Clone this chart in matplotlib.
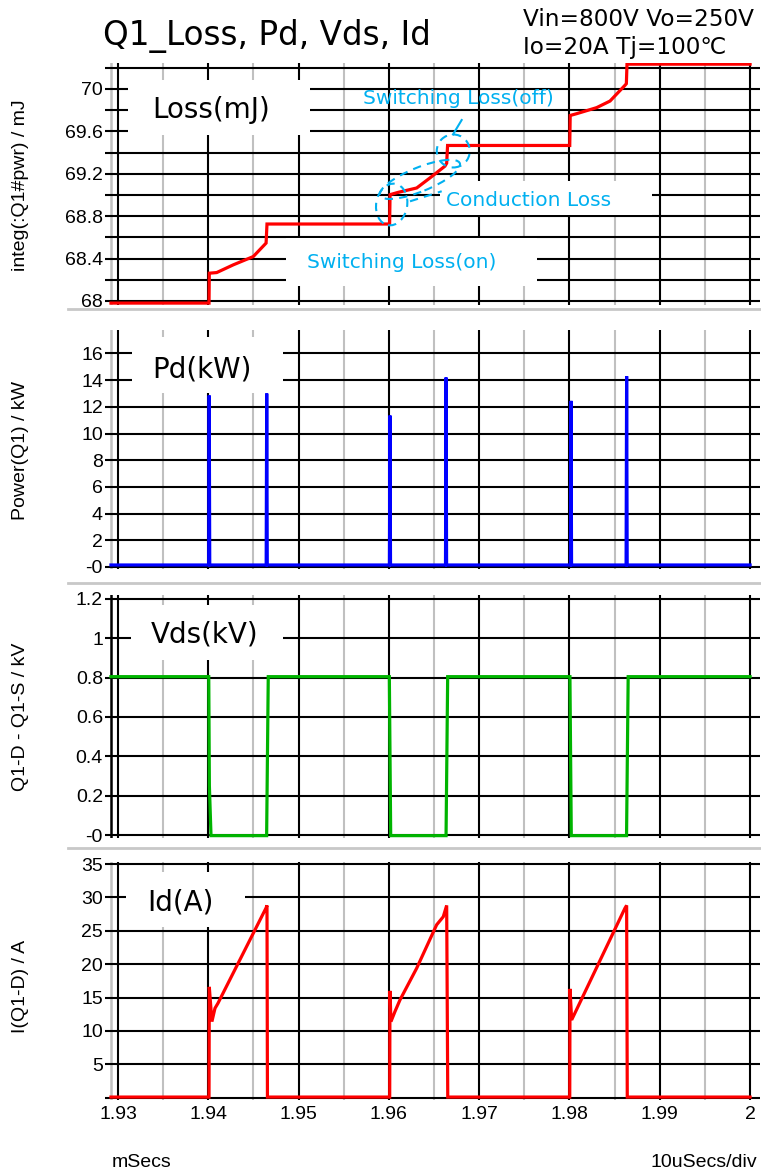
import matplotlib.pyplot as plt
import numpy as np
from matplotlib.patches import Rectangle, Ellipse
from matplotlib.lines import Line2D
from matplotlib.transforms import ScaledTranslation

# --- waveform data (time in ms) ---
loss_t = [1.92922, 1.94008, 1.94011, 1.94093, 1.94277, 1.94498, 1.94640, 1.94650,
          1.96008, 1.96013, 1.96104, 1.96308, 1.96455, 1.96621, 1.96640, 1.96650,
          1.98003, 1.98008, 1.98080, 1.98301, 1.98449, 1.98615, 1.98630, 1.98637, 2.0]
loss_mj = [67.98, 67.98, 68.262, 68.268, 68.341, 68.419, 68.546, 68.726,
           68.726, 69.003, 69.025, 69.066, 69.161, 69.272, 69.30, 69.467,
           69.467, 69.750, 69.767, 69.824, 69.886, 70.035, 70.05, 70.234, 70.234]

pd_t = [1.92922, 1.94004, 1.94010, 1.94016, 1.94641, 1.94647, 1.94653,
        1.96006, 1.96012, 1.96018, 1.96627, 1.96633, 1.96639,
        1.98011, 1.98017, 1.98023, 1.98627, 1.98633, 1.98639, 2.0]
pd_kw = [0.15, 0.15, 12.85, 0.15, 0.15, 13.0, 0.15,
         0.15, 11.35, 0.15, 0.15, 14.2, 0.15,
         0.15, 12.45, 0.15, 0.15, 14.3, 0.15, 0.15]

vds_t = [1.92922, 1.94005, 1.94012, 1.94030, 1.94646, 1.94664,
         1.96005, 1.96020, 1.96633, 1.96651,
         1.98005, 1.98020, 1.98632, 1.98650, 2.0]
vds_kv = [0.805, 0.805, 0.25, -0.003, -0.003, 0.805,
          0.805, -0.003, -0.003, 0.805,
          0.805, -0.003, -0.003, 0.805, 0.805]

id_t = [1.92922, 1.94008, 1.94011, 1.94040, 1.94074, 1.94107, 1.94639, 1.94650, 1.94655,
        1.96009, 1.96012, 1.96023, 1.96067, 1.96123, 1.96308, 1.96529, 1.96602, 1.96640, 1.96652,
        1.98003, 1.98006, 1.98024, 1.98615, 1.98633, 1.98640, 2.0]
id_a = [0.1, 0.1, 16.6, 11.4, 13.4, 14.15, 28.4, 28.8, 0.1,
        0.1, 16.0, 11.4, 12.9, 14.65, 19.4, 25.9, 27.1, 28.8, 0.1,
        0.1, 16.3, 11.65, 28.4, 28.8, 0.1, 0.1]

x_major = [1.93, 1.94, 1.95, 1.96, 1.97, 1.98, 1.99, 2.0]
x_labels = ['1.93', '1.94', '1.95', '1.96', '1.97', '1.98', '1.99', '2']

# --- figure layout (pixels of a 761x1172 image) ---
W, H = 761, 1172
fig = plt.figure(figsize=(W / 100, H / 100), dpi=100)

TICK_FONT = 'Liberation Sans'
CYAN = '#00B0F0'


def px_rect(x0, y0, x1, y1):
    return [x0 / W, 1 - y1 / H, (x1 - x0) / W, (y1 - y0) / H]


def fx(x):
    return x / W


def fy(y):
    return 1 - y / H


panels = [
    # top px, bottom px, ylim, grid step, labelled ticks, labels, ylabel
    dict(top=63, bot=305, ylim=(67.962, 70.245), grid=np.arange(68, 70.3, 0.2),
         ticks=[68, 68.4, 68.8, 69.2, 69.6, 70], labels=['68', '68.4', '68.8', '69.2', '69.6', '70'],
         ylabel='integ(:Q1#pwr) / mJ', ylab_y=185),
    dict(top=330, bot=569, ylim=(-0.15, 17.76), grid=np.arange(0, 17, 2),
         ticks=[0, 2, 4, 6, 8, 10, 12, 14, 16], labels=['-0', '2', '4', '6', '8', '10', '12', '14', '16'],
         ylabel='Power(Q1) / kW', ylab_y=451),
    dict(top=595, bot=838, ylim=(-0.015, 1.22), grid=np.arange(0, 1.25, 0.2),
         ticks=[0, 0.2, 0.4, 0.6, 0.8, 1.0, 1.2], labels=['-0', '0.2', '0.4', '0.6', '0.8', '1', '1.2'],
         ylabel='Q1-D - Q1-S / kV', ylab_y=717),
    dict(top=862, bot=1100, ylim=(-0.34, 35.3), grid=np.arange(0, 36, 5),
         ticks=[5, 10, 15, 20, 25, 30, 35], labels=['5', '10', '15', '20', '25', '30', '35'],
         ylabel='I(Q1-D) / A', ylab_y=986),
]

series = [(loss_t, loss_mj, '#FF0000'), (pd_t, pd_kw, '#0000FF'),
          (vds_t, vds_kv, '#00B400'), (id_t, id_a, '#FF0000')]

axes = []
for i, (p, (t, v, c)) in enumerate(zip(panels, series)):
    ax = fig.add_axes(px_rect(105, p['top'], 760, p['bot']))
    ax.set_xlim(1.92856, 2.0011)
    ax.set_ylim(*p['ylim'])
    for s in ax.spines.values():
        s.set_visible(False)
    # grid: black horizontal + major vertical, gray half-division lines
    for g in p['grid']:
        ax.axhline(g, color='black', lw=1.5, zorder=1)
    for xm in x_major:
        ax.axvline(xm, color='black', lw=1.5, zorder=1)
    for xm in np.array(x_major[:-1]) + 0.005:
        ax.axvline(xm, color='#C0C0C0', lw=1.5, zorder=0.9)
    ax.axvline(1.92922, color='black' if i == 2 else '#C0C0C0', lw=1.8, zorder=0.9)

    ax.plot(t, v, color=c, lw=2.3, zorder=3, solid_joinstyle='miter')

    ax.set_yticks(p['ticks'])
    ax.set_yticklabels(p['labels'], fontfamily=TICK_FONT, fontsize=14)
    ax.tick_params(axis='y', length=0, pad=1.5)
    if i == 3:
        ax.set_xticks(x_major)
        ax.set_xticklabels(x_labels, fontfamily=TICK_FONT, fontsize=14)
        ax.tick_params(axis='x', length=0, pad=4)
    else:
        ax.set_xticks([])
    fig.text(fx(21), fy(p['ylab_y']), p['ylabel'], rotation=90, ha='center', va='center',
             fontfamily=TICK_FONT, fontsize=14)
    axes.append(ax)


def white_box(ax, x0, y0, x1, y1):
    r = Rectangle((x0 / W, 1 - y1 / H), (x1 - x0) / W, (y1 - y0) / H, transform=fig.transFigure,
                  facecolor='white', edgecolor='none', zorder=2, clip_on=False)
    ax.add_patch(r)


# panel name boxes
white_box(axes[0], 128, 80, 310, 135)
white_box(axes[1], 132, 337, 283, 393)
white_box(axes[2], 131, 605, 283, 660)
white_box(axes[3], 126, 872, 245, 927)
fig.text(fx(211), fy(110), 'Loss(mJ)', ha='center', va='center', fontsize=20, zorder=5)
fig.text(fx(202), fy(369), 'Pd(kW)', ha='center', va='center', fontsize=20, zorder=5)
fig.text(fx(205), fy(635), 'Vds(kV)', ha='center', va='center', fontsize=20, zorder=5)
fig.text(fx(180), fy(903), 'Id(A)', ha='center', va='center', fontsize=20, zorder=5)

# loss annotations
ax0 = axes[0]
white_box(ax0, 440, 181, 652, 215)
white_box(ax0, 286, 238, 537, 286)
fig.text(fx(458), fy(98), 'Switching Loss(off)', ha='center', va='center', fontsize=14.5, color=CYAN)
fig.text(fx(529), fy(201), 'Conduction Loss', ha='center', va='center', fontsize=14.5, color=CYAN)
fig.text(fx(402), fy(263), 'Switching Loss(on)', ha='center', va='center', fontsize=14.5, color=CYAN)

for (ct, cv, w, h, ang) in [(1.96031, 68.91, 0.31, 0.42, -10), (1.96713, 69.415, 0.33, 0.33, 0),
                            (1.96344, 69.147, 0.86, 0.24, 22)]:
    e = Ellipse((0, 0), w, h, angle=ang, fill=False, ls=(0, (4, 3)), ec=CYAN, lw=1.5,
                transform=fig.dpi_scale_trans + ScaledTranslation(ct, cv, ax0.transData),
                zorder=4, clip_on=False)
    ax0.add_patch(e)
ax0.plot([1.96710, 1.96806], [69.571, 69.707], color=CYAN, lw=1.5, zorder=4)
ax0.plot([1.96234, 1.96585], [68.94, 69.035], color=CYAN, lw=1.5, ls=(0, (4, 3)), zorder=4)
ax0.set_xlim(1.92856, 2.0011)
ax0.set_ylim(*panels[0]['ylim'])

# separators between panels
for ys in [309, 583, 848]:
    fig.add_artist(Line2D([fx(68), fx(761)], [fy(ys), fy(ys)], color='#C8C8C8', lw=2))

# titles and footer
fig.text(fx(103), fy(45), 'Q1_Loss, Pd, Vds, Id', ha='left', va='baseline', fontsize=23.5)
fig.text(fx(523), fy(26), 'Vin=800V Vo=250V', ha='left', va='baseline', fontsize=16.7)
fig.text(fx(523), fy(54), 'Io=20A Tj=100℃', ha='left', va='baseline', fontsize=16.7,
         family=['DejaVu Sans', 'Noto Sans CJK JP'])
fig.text(fx(112), fy(1167), 'mSecs', ha='left', va='baseline', fontfamily=TICK_FONT, fontsize=14)
fig.text(fx(757), fy(1167), '10uSecs/div', ha='right', va='baseline', fontfamily=TICK_FONT, fontsize=14)

fig.savefig('out.png', dpi=100)
